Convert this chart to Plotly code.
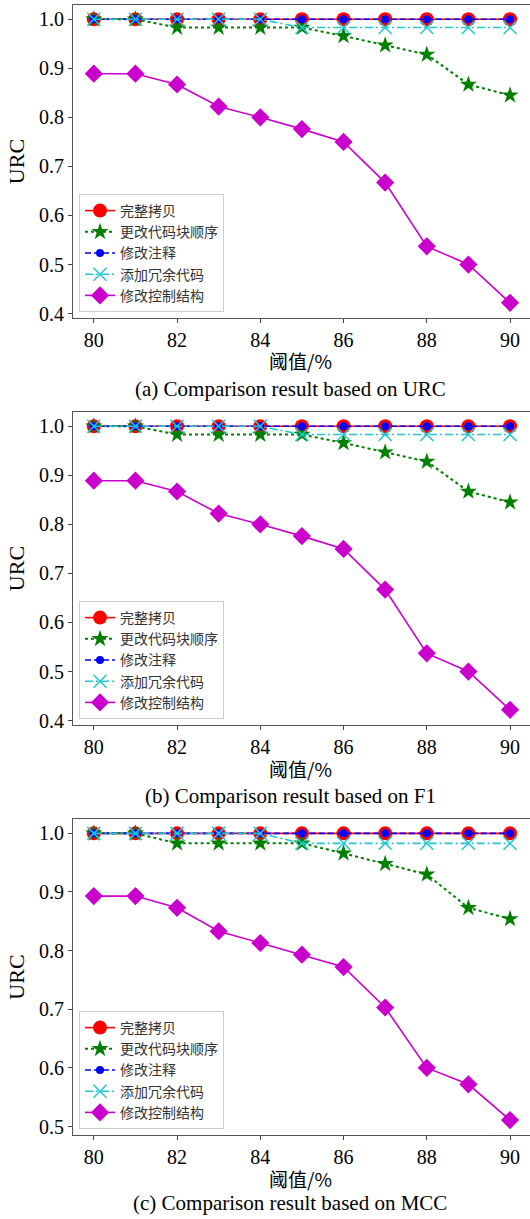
import plotly.graph_objects as go

W, H = 530, 1219

thresholds = [80, 81, 82, 83, 84, 85, 86, 87, 88, 89, 90]
series_names = ["完整拷贝", "更改代码块顺序", "修改注释", "添加冗余代码", "修改控制结构"]

# Panel (a) URC
a_full = [1.0] * 11
a_order = [1.0, 1.0, 0.983, 0.983, 0.983, 0.983, 0.966, 0.947, 0.928, 0.867, 0.845]
a_comment = [1.0] * 11
a_redund = [1.0, 1.0, 1.0, 1.0, 1.0, 0.983, 0.983, 0.983, 0.983, 0.983, 0.983]
a_ctrl = [0.889, 0.889, 0.867, 0.822, 0.800, 0.776, 0.750, 0.667, 0.537, 0.500, 0.422]

# Panel (b) F1
b_full = [1.0] * 11
b_order = [1.0, 1.0, 0.983, 0.983, 0.983, 0.983, 0.966, 0.947, 0.928, 0.867, 0.845]
b_comment = [1.0] * 11
b_redund = [1.0, 1.0, 1.0, 1.0, 1.0, 0.983, 0.983, 0.983, 0.983, 0.983, 0.983]
b_ctrl = [0.889, 0.889, 0.867, 0.822, 0.800, 0.776, 0.750, 0.667, 0.537, 0.500, 0.422]

# Panel (c) MCC
c_full = [1.0] * 11
c_order = [1.0, 1.0, 0.983, 0.983, 0.983, 0.983, 0.966, 0.948, 0.930, 0.873, 0.854]
c_comment = [1.0] * 11
c_redund = [1.0, 1.0, 1.0, 1.0, 1.0, 0.983, 0.983, 0.983, 0.983, 0.983, 0.983]
c_ctrl = [0.893, 0.893, 0.873, 0.833, 0.813, 0.793, 0.772, 0.703, 0.600, 0.572, 0.511]

y_ticks_a = [0.4, 0.5, 0.6, 0.7, 0.8, 0.9, 1.0]
y_ticks_c = [0.5, 0.6, 0.7, 0.8, 0.9, 1.0]
x_ticks = [80, 82, 84, 86, 88, 90]
y_title = "URC"
x_title = "阈值/%"
captions = ["(a) Comparison result based on URC",
            "(b) Comparison result based on F1",
            "(c) Comparison result based on MCC"]

panels = [
    (a_full, a_order, a_comment, a_redund, a_ctrl, [0.391, 1.029], y_ticks_a),
    (b_full, b_order, b_comment, b_redund, b_ctrl, [0.391, 1.029], y_ticks_a),
    (c_full, c_order, c_comment, c_redund, c_ctrl, [0.4855, 1.0245], y_ticks_c),
]

# pixel geometry (top, bottom) of each plot area
boxes = [(5, 318), (412, 725), (819, 1135)]
cap_offsets = [71, 71, 68]
x_left_px = 73

styles = [
    dict(line=dict(color="#ff0000", width=1.6, dash="solid"),
         marker=dict(symbol="circle", size=14, color="#ff0000")),
    dict(line=dict(color="#008000", width=2, dash="dot"),
         marker=dict(symbol="star", size=13, color="#008000")),
    dict(line=dict(color="#0000ff", width=1.6, dash="6px,3px"),
         marker=dict(symbol="circle", size=8, color="#0000ff")),
    dict(line=dict(color="#20c8d0", width=1.6, dash="8px,3px,2px,3px"),
         marker=dict(symbol="x-thin", size=13, color="#20c8d0",
                     line=dict(color="#20c8d0", width=1.5))),
    dict(line=dict(color="#cc00cc", width=1.6, dash="solid"),
         marker=dict(symbol="diamond", size=14, color="#cc00cc")),
]

fig = go.Figure()
serif = "Liberation Serif, Times New Roman, serif"
cjk = "Noto Sans CJK SC"

layout = dict(width=W, height=H, margin=dict(l=0, r=0, t=0, b=0, autoexpand=False),
              plot_bgcolor="white", paper_bgcolor="white", showlegend=True,
              annotations=[])

for i, (full, order, comment, redund, ctrl, yr, yt) in enumerate(panels):
    sfx = "" if i == 0 else str(i + 1)
    legend_name = "legend" if i == 0 else "legend" + str(i + 1)
    for name, vals, st in zip(series_names, [full, order, comment, redund, ctrl], styles):
        fig.add_trace(go.Scatter(
            x=thresholds, y=vals, name=name, mode="lines+markers",
            line=st["line"], marker=st["marker"],
            xaxis="x" + sfx, yaxis="y" + sfx, legend=legend_name))
    top, bot = boxes[i]
    ydom = [1 - bot / H, 1 - top / H]
    layout["xaxis" + sfx] = dict(
        domain=[x_left_px / W, 1.0], range=[79.5, 90.48], anchor="y" + sfx,
        tickvals=x_ticks, ticks="outside", ticklen=4, tickcolor="#444",
        showline=True, linecolor="#555", linewidth=1.2, mirror=True,
        showgrid=False, zeroline=False, automargin=False,
        tickfont=dict(family=serif, size=20, color="black"))
    layout["yaxis" + sfx] = dict(
        domain=ydom, range=yr, anchor="x" + sfx,
        tickvals=yt, tickformat=".1f", ticks="outside", ticklen=4, tickcolor="#444",
        showline=True, linecolor="#555", linewidth=1.2, mirror=True,
        showgrid=False, zeroline=False, automargin=False,
        tickfont=dict(family=serif, size=20, color="black"),
        title=dict(text=y_title, font=dict(family=serif, size=22, color="black"),
                   standoff=8))
    layout[legend_name] = dict(
        x=79 / W, y=1 - (bot - 6) / H, xanchor="left", yanchor="bottom",
        bgcolor="rgba(255,255,255,0.85)", bordercolor="#cccccc", borderwidth=1,
        font=dict(family=cjk, size=14, color="#333"), tracegroupgap=0,
        itemwidth=30)
    layout["annotations"].append(dict(
        text=x_title, x=300 / W, y=1 - (bot + 43) / H, xref="paper", yref="paper",
        showarrow=False, xanchor="center", yanchor="middle",
        font=dict(family=cjk, size=19, color="black")))
    layout["annotations"].append(dict(
        text=captions[i], x=290 / W, y=1 - (bot + cap_offsets[i]) / H,
        xref="paper", yref="paper",
        showarrow=False, xanchor="center", yanchor="middle",
        font=dict(family=serif, size=21, color="black")))

fig.update_layout(**layout)
fig.write_html("out.html", config={"displayModeBar": False},
               post_script="document.body.style.margin='0';document.body.style.overflow='hidden';")
